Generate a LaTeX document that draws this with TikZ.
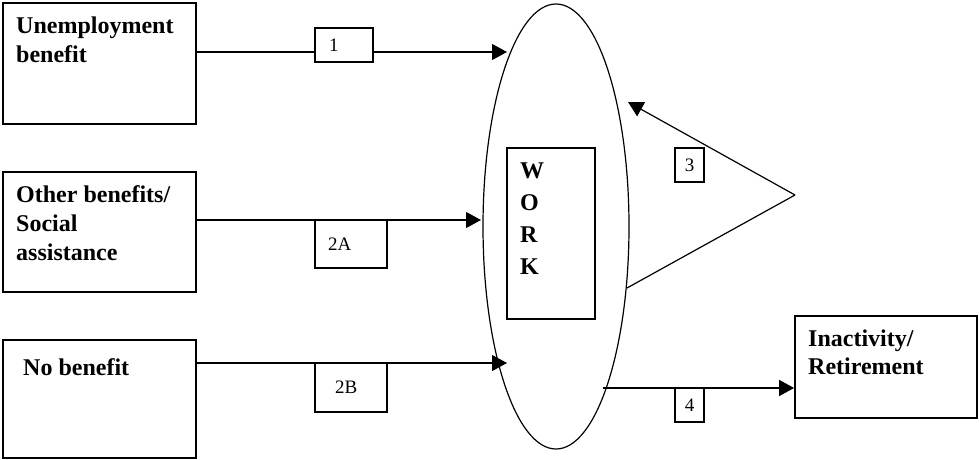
\documentclass[tikz,border=0pt]{standalone}
\usepackage{fontspec}
\setmainfont{Liberation Serif}
\usetikzlibrary{arrows.meta,shapes.geometric}
\begin{document}
\begin{tikzpicture}[x=1pt,y=-1pt,
  bigbox/.style={draw, line width=1.8pt, inner sep=0},
  lbl/.style={anchor=north west, inner sep=0, align=left, font=\fontsize{24}{29}\selectfont\bfseries},
  numbox/.style={draw, line width=1.4pt, inner ysep=0, font=\fontsize{19}{22}\selectfont},
  flow/.style={line width=1.2pt, -{Triangle[length=15pt,width=16pt]}},
  plain/.style={line width=1.2pt}]
\useasboundingbox (0,0) rectangle (979,460);
% big boxes
\node[bigbox, minimum width=193pt, minimum height=121pt] (b1) at (99.5,63.5) {};
\node[bigbox, minimum width=193pt, minimum height=120pt] (b2) at (99.5,232) {};
\node[bigbox, minimum width=193pt, minimum height=118pt] (b3) at (99.5,399) {};
\node[bigbox, minimum width=182pt, minimum height=102pt] (b4) at (886,367) {};
\node[lbl] (t1) at (16,17) {Unemployment\\benefit};
\node[lbl] (t2) at (16,185) {Other benefits/\\Social\\assistance};
\node[lbl] (t3) at (23,358) {No benefit};
\node[lbl, font=\fontsize{24}{28}\selectfont\bfseries] (t4) at (808,330) {Inactivity/\\Retirement};
% work ellipse
\node[ellipse, draw, line width=1.2pt, minimum width=146pt, minimum height=445pt, inner sep=0] (work) at (556,226.5) {};
\node[draw, line width=1.4pt, minimum width=88pt, minimum height=171pt, inner sep=0] (wbox) at (551,233.5) {};
\node[lbl, font=\fontsize{24}{32}\selectfont\bfseries] (wtext) at (520,163) {W\\O\\R\\K};
% coordinates
\coordinate (e1) at (507,52);
\coordinate (e2a) at (481,220);
\coordinate (e2b) at (507,363);
\coordinate (apex) at (795,195);
\coordinate (e3) at (628,102);
\coordinate (f3) at (627,288);
\coordinate (s4) at (603,388);
% number boxes
\node[numbox, minimum height=34pt, inner xsep=14pt, text width=30pt, align=left] (n1) at (344,45) {1};
\node[numbox, minimum height=48pt, inner xsep=13pt, text width=46pt, align=left] (n2a) at (351,244) {2A};
\node[numbox, minimum height=49pt, inner xsep=20pt, text width=32pt, align=left] (n2b) at (351,387.5) {2B};
\node[numbox, minimum height=34pt, minimum width=29pt, inner xsep=0] (n3) at (689.5,165) {3};
\node[numbox, minimum height=34pt, minimum width=29pt, inner xsep=0] (n4) at (689.5,405) {4};
% connectors
\draw[plain] (b1.east |- e1) -- (n1.west |- e1);
\draw[flow] (n1.east |- e1) -- (e1);
\draw[flow] (b2.east |- e2a) -- (e2a);
\draw[flow] (b3.east |- e2b) -- (e2b);
\draw[flow] (apex) -- (e3);
\draw[plain] (apex) -- (f3);
\draw[flow] (s4) -- (b4.west |- s4);
\end{tikzpicture}
\end{document}
